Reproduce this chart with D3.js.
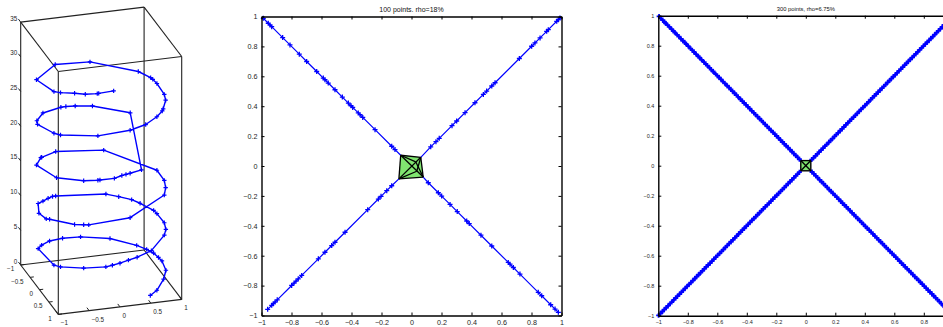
<!DOCTYPE html>
<html>
<head>
<meta charset="utf-8">
<script src="https://cdn.jsdelivr.net/npm/d3@7"></script>
<style>
  html, body { margin: 0; padding: 0; background: #fff; }
  svg { display: block; font-family: "Liberation Sans", Arial, sans-serif; }
</style>
</head>
<body>
<div id="container"></div>
<script>
// ---------- data ----------
// left panel: sampled helix, read off the 3d view (top end first)
const helixX = [-0.10, -0.33, -0.35, -0.52, -0.66, -0.83, -0.90, -0.97, -0.48, 0.12,
  0.79, 0.92, 0.94, 0.97, 0.996, 0.966, 0.84, 0.81, 0.68, 0.45,
  0.17, -0.34, -0.83, -0.90, -0.98, -0.93, -0.74, -0.37, -0.28, -0.12,
  0.16, 0.69, 0.37, 0.17, 0.10, 0.03, -0.09, -0.31, -0.34, -0.54,
  -0.87, -0.97, -0.79, -0.77, -0.47, 0.33, 0.97, 0.996, 0.966, 0.87,
  0.17, -0.47, -0.54, -0.66, -0.94, -0.97, -1.0, -0.87, -0.74, -0.62,
  -0.53, -0.47, 0.36, 0.54, 0.71, 0.81, 0.95, 0.97, 0.996, 0.96,
  0.88, 0.56, 0.29, 0.14, 0.0, -0.12, -0.22, -0.54, -0.83, -0.90,
  -0.87, -0.77, -0.59, -0.34, -0.03, 0.42, 0.77, 0.88, 0.95, 0.98,
  1.0, 0.97, 0.85, 0.68, 0.54];
const helixY = [0.99, 0.95, 0.94, 0.86, 0.75, 0.56, 0.44, -0.26, -0.87, -0.99,
  -0.62, -0.39, -0.34, -0.22, 0.087, 0.259, 0.54, 0.59, 0.73, 0.89,
  0.98, 0.94, 0.56, 0.44, -0.17, -0.37, -0.67, -0.93, -0.96, -0.99,
  -0.99, -0.72, 0.93, 0.98, 0.99, 1.0, 0.996, 0.95, 0.94, 0.84,
  0.48, -0.26, -0.62, -0.64, -0.88, -0.95, -0.22, 0.087, 0.259, 0.5,
  0.98, 0.88, 0.84, 0.75, 0.34, 0.26, -0.03, -0.5, -0.67, -0.79,
  -0.85, -0.88, -0.93, -0.84, -0.71, -0.59, -0.33, -0.22, 0.087, 0.29,
  0.47, 0.83, 0.96, 0.99, 1.0, 0.99, 0.97, 0.84, 0.56, 0.44,
  -0.5, -0.64, -0.81, -0.94, -1.0, -0.91, -0.64, -0.47, -0.33, -0.17,
  -0.05, 0.26, 0.53, 0.73, 0.84];
const helixZ = [31.2, 30.95, 30.9, 30.7, 30.6, 30.2, 30.0, 29.3, 28.8, 28.1,
  27.3, 27.1, 27.0, 26.8, 26.3, 26.1, 26.0, 25.9, 25.7, 25.4,
  25.2, 24.8, 24.1, 24.0, 23.2, 22.95, 22.8, 22.3, 22.2, 22.0,
  21.7, 21.1, 19.1, 19.0, 18.95, 18.9, 18.6, 18.45, 18.4, 18.2,
  17.7, 17.0, 16.6, 16.55, 16.2, 15.3, 14.3, 13.9, 13.5, 13.4,
  12.6, 11.9, 11.85, 11.7, 11.3, 11.1, 10.9, 10.5, 10.1, 9.95,
  9.9, 9.8, 9.0, 8.75, 8.6, 8.4, 8.15, 8.05, 7.8, 7.6,
  7.5, 6.9, 6.7, 6.55, 6.3, 6.1, 5.9, 5.6, 5.1, 5.0,
  4.0, 3.9, 3.7, 3.35, 3.0, 2.6, 2.2, 2.1, 2.0, 1.9,
  1.8, 1.6, 1.4, 0.7, 0.5];
const cubeXTicks = [-1, -0.5, 0, 0.5, 1];
const cubeYTicks = [-1, -0.5, 0, 0.5, 1];
const cubeZTicks = [0, 5, 10, 15, 20, 25, 30, 35];

// 2d panels: x values of the points on each diagonal branch
// branch order: upper-left, upper-right, lower-left, lower-right
const branchSign = [-1, 1, 1, -1];
const branchCore = [0, 1, 3, 2];
const planeTicks = [-1, -0.8, -0.6, -0.4, -0.2, 0, 0.2, 0.4, 0.6, 0.8, 1];

const midTitle = "100 points. rho=18%";
const midUL = [-0.988, -0.955, -0.943, -0.932, -0.859, -0.81, -0.748, -0.699, -0.632, -0.588,
  -0.577, -0.555, -0.51, -0.461, -0.421, -0.403, -0.392, -0.355, -0.343, -0.325,
  -0.243, -0.132, -0.11];
const midUR = [0.128, 0.163, 0.185, 0.27, 0.301, 0.357, 0.423, 0.479, 0.501, 0.535,
  0.557, 0.719, 0.801, 0.823, 0.857, 0.901, 0.912, 0.968, 0.979, 0.99];
const midLL = [-0.959, -0.932, -0.921, -0.91, -0.895, -0.799, -0.783, -0.77, -0.755, -0.732,
  -0.621, -0.577, -0.532, -0.51, -0.443, -0.292, -0.221, -0.203, -0.165, -0.132];
const midLR = [0.112, 0.179, 0.201, 0.257, 0.305, 0.368, 0.385, 0.463, 0.535, 0.645,
  0.657, 0.679, 0.723, 0.845, 0.868, 0.928, 0.957, 0.979];
const midCoreX = [-0.072, 0.062, 0.078, -0.084, 0.035, 0.028];
const midCoreY = [0.072, 0.058, -0.074, -0.086, -0.035, 0.028];
const midCoreEdges = [[0, 1], [1, 2], [2, 3], [3, 0], [0, 2], [1, 3], [1, 4], [3, 4], [0, 5], [2, 5]];
const midCoreFaces = [[0, 1, 2], [0, 2, 3]];

const rightTitle = "300 points, rho=6.75%";
const rightUL = [-0.995, -0.982, -0.97, -0.958, -0.951, -0.937, -0.925, -0.91, -0.897, -0.889,
  -0.872, -0.86, -0.846, -0.833, -0.82, -0.812, -0.797, -0.781, -0.77, -0.758,
  -0.744, -0.729, -0.72, -0.706, -0.69, -0.678, -0.667, -0.652, -0.641, -0.628,
  -0.611, -0.6, -0.588, -0.575, -0.561, -0.549, -0.533, -0.52, -0.508, -0.497,
  -0.483, -0.47, -0.459, -0.443, -0.43, -0.418, -0.405, -0.392, -0.38, -0.366,
  -0.352, -0.341, -0.327, -0.313, -0.3, -0.289, -0.276, -0.262, -0.249, -0.236,
  -0.222, -0.21, -0.198, -0.185, -0.171, -0.158, -0.146, -0.133, -0.12, -0.107,
  -0.093, -0.081, -0.068, -0.055, -0.043];
const rightUR = [0.04, 0.052, 0.066, 0.079, 0.09, 0.104, 0.117, 0.13, 0.141, 0.156,
  0.168, 0.181, 0.195, 0.207, 0.219, 0.233, 0.246, 0.258, 0.272, 0.285,
  0.297, 0.31, 0.324, 0.336, 0.349, 0.362, 0.375, 0.387, 0.401, 0.414,
  0.426, 0.44, 0.452, 0.465, 0.478, 0.49, 0.503, 0.517, 0.529, 0.541,
  0.555, 0.568, 0.58, 0.593, 0.606, 0.619, 0.632, 0.644, 0.657, 0.67,
  0.683, 0.695, 0.708, 0.721, 0.734, 0.746, 0.759, 0.772, 0.785, 0.797,
  0.81, 0.823, 0.836, 0.848, 0.861, 0.874, 0.887, 0.899, 0.912, 0.925,
  0.938, 0.95, 0.963, 0.976, 0.99];
const rightLL = [-0.998, -0.986, -0.972, -0.96, -0.947, -0.934, -0.92, -0.909, -0.895, -0.882,
  -0.87, -0.856, -0.843, -0.831, -0.818, -0.805, -0.791, -0.779, -0.766, -0.752,
  -0.74, -0.727, -0.713, -0.701, -0.688, -0.675, -0.662, -0.649, -0.636, -0.623,
  -0.61, -0.598, -0.584, -0.571, -0.559, -0.545, -0.533, -0.52, -0.507, -0.494,
  -0.481, -0.469, -0.455, -0.442, -0.43, -0.417, -0.403, -0.391, -0.378, -0.365,
  -0.352, -0.339, -0.327, -0.313, -0.3, -0.288, -0.275, -0.261, -0.249, -0.236,
  -0.223, -0.21, -0.197, -0.184, -0.171, -0.159, -0.146, -0.133, -0.12, -0.107,
  -0.094, -0.081, -0.068, -0.056, -0.043];
const rightLR = [0.042, 0.055, 0.068, 0.08, 0.094, 0.107, 0.12, 0.133, 0.145, 0.159,
  0.172, 0.184, 0.198, 0.21, 0.223, 0.237, 0.249, 0.262, 0.275, 0.288,
  0.3, 0.314, 0.327, 0.339, 0.352, 0.366, 0.378, 0.391, 0.404, 0.417,
  0.43, 0.443, 0.455, 0.469, 0.481, 0.494, 0.507, 0.52, 0.533, 0.546,
  0.558, 0.571, 0.585, 0.597, 0.61, 0.623, 0.636, 0.649, 0.662, 0.674,
  0.688, 0.7, 0.713, 0.726, 0.739, 0.752, 0.765, 0.777, 0.79, 0.803,
  0.816, 0.829, 0.842, 0.855, 0.867, 0.881, 0.893, 0.906, 0.919, 0.932,
  0.945, 0.958, 0.97, 0.983, 0.996];
const rightCoreX = [-0.034, 0.034, 0.034, -0.034];
const rightCoreY = [0.034, 0.034, -0.034, -0.034];
const rightCoreEdges = [[0, 1], [1, 2], [2, 3], [3, 0], [0, 2], [1, 3]];
const rightCoreFaces = [[0, 1, 2], [0, 2, 3]];

// ---------- setup ----------
const W = 943, H = 327;
const BLUE = "#0000ff", GREEN = "rgb(128,228,112)", TXT = "#262626";
const fmt = d3.format("~g");

const svg = d3.select("#container").append("svg")
  .attr("width", W).attr("height", H).attr("viewBox", `0 0 ${W} ${H}`);

const plus = (x, y, s) => `M${x - s},${y}H${x + s}M${x},${y - s}V${y + s}`;

// ---------- left: 3d helix ----------
// orthographic view, each data axis contributes a screen offset
const sxX = d3.scaleLinear().domain([-1, 1]).range([-61.7, 61.7]);
const syX = d3.scaleLinear().domain([-1, 1]).range([7.5, -7.5]);
const sxY = d3.scaleLinear().domain([-1, 1]).range([-18.8, 18.8]);
const syY = d3.scaleLinear().domain([-1, 1]).range([-24.7, 24.7]);
const syZ = d3.scaleLinear().domain([0, 35]).range([0, -242.9]);
const proj = (x, y, z) => [101.2 + sxX(x) + sxY(y), 282.2 + syX(x) + syY(y) + syZ(z)];

const g3 = svg.append("g");
const lims = { x: [-1, 1], y: [-1, 1], z: [0, 35] };
const boxEdges = [];
for (const a of lims.y) for (const b of lims.z) boxEdges.push([[-1, a, b], [1, a, b]]);
for (const a of lims.x) for (const b of lims.z) boxEdges.push([[a, -1, b], [a, 1, b]]);
for (const a of lims.x) for (const b of lims.y) boxEdges.push([[a, b, 0], [a, b, 35]]);

g3.selectAll(".edge").data(boxEdges).join("line")
  .attr("x1", d => proj(...d[0])[0]).attr("y1", d => proj(...d[0])[1])
  .attr("x2", d => proj(...d[1])[0]).attr("y2", d => proj(...d[1])[1])
  .attr("stroke", "#222").attr("stroke-width", 1.1);

// ticks + labels
const tick3 = (data, p0, p1, lab) => {
  g3.append("g").selectAll("line").data(data).join("line")
    .attr("x1", d => p0(d)[0]).attr("y1", d => p0(d)[1])
    .attr("x2", d => p1(d)[0]).attr("y2", d => p1(d)[1])
    .attr("stroke", "#222").attr("stroke-width", 1);
  g3.append("g").selectAll("text").data(data).join("text")
    .attr("x", d => p0(d)[0] + lab.dx).attr("y", d => p0(d)[1] + lab.dy)
    .attr("text-anchor", lab.anchor).attr("font-size", 6.3).attr("fill", TXT)
    .text(fmt);
};
tick3(cubeZTicks, z => proj(-1, -1, z), z => proj(-1, -1.12, z), { dx: -3.5, dy: -1.5, anchor: "end" });
tick3(cubeYTicks, v => proj(-1, v, 0), v => proj(-0.94, v, 0), { dx: -6.5, dy: 6.3, anchor: "end" });
tick3(cubeXTicks, v => proj(v, 1, 0), v => proj(v, 0.88, 0), { dx: 2.5, dy: 11, anchor: "start" });

const helixPts = helixX.map((x, i) => proj(x, helixY[i], helixZ[i]));
g3.append("path").attr("d", d3.line()(helixPts))
  .attr("fill", "none").attr("stroke", BLUE).attr("stroke-width", 1.4)
  .attr("stroke-linejoin", "round");
g3.append("path").attr("d", helixPts.map(p => plus(p[0], p[1], 2.2)).join(""))
  .attr("stroke", BLUE).attr("stroke-width", 1.2);

// ---------- 2d panels ----------
function drawPanel(o) {
  const x = d3.scaleLinear().domain([-1, 1]).range([o.left, o.right]);
  const y = d3.scaleLinear().domain([-1, 1]).range([o.bottom, o.top]);
  const g = svg.append("g");
  const line = d3.line().x(d => x(d[0])).y(d => y(d[1]));

  o.branches.forEach((xs, k) => {
    const pts = xs.map(v => [v, branchSign[k] * v]);
    const c = branchCore[k];
    const path = pts.concat([[o.coreX[c], o.coreY[c]]]).sort((a, b) => a[0] - b[0]);
    g.append("path").attr("d", line(path))
      .attr("fill", "none").attr("stroke", BLUE).attr("stroke-width", o.lw);
    g.append("path").attr("d", pts.map(p => plus(x(p[0]), y(p[1]), o.ms)).join(""))
      .attr("stroke", BLUE).attr("stroke-width", o.mw);
  });

  g.selectAll(".face").data(o.faces).join("path")
    .attr("d", f => line(f.map(i => [o.coreX[i], o.coreY[i]])) + "Z")
    .attr("fill", GREEN);
  g.selectAll(".cedge").data(o.edges).join("line")
    .attr("x1", e => x(o.coreX[e[0]])).attr("y1", e => y(o.coreY[e[0]]))
    .attr("x2", e => x(o.coreX[e[1]])).attr("y2", e => y(o.coreY[e[1]]))
    .attr("stroke", "#000").attr("stroke-width", o.ew);

  const none = () => "";
  // labels whose tick falls past the page edge are left out, as in the cropped original
  const xFmt = v => (x(v) + 6 > W ? "" : fmt(v));
  const axes = [
    [d3.axisBottom(x).tickFormat(xFmt), `translate(0,${o.bottom})`],
    [d3.axisTop(x).tickFormat(none), `translate(0,${o.top})`],
    [d3.axisLeft(y).tickFormat(fmt), `translate(${o.left},0)`],
    [d3.axisRight(y).tickFormat(none), `translate(${o.right},0)`]
  ];
  axes.forEach(([ax, tr]) => {
    const a = g.append("g").attr("transform", tr)
      .call(ax.tickValues(planeTicks).tickSizeInner(-3).tickSizeOuter(0).tickPadding(o.pad));
    a.attr("font-family", null).attr("font-size", o.fs);
    a.select(".domain").attr("stroke", "#000").attr("stroke-width", 1.4);
    a.selectAll(".tick line").attr("stroke", "#000").attr("stroke-width", 1);
    a.selectAll(".tick text").attr("fill", TXT);
  });

  g.append("text").attr("x", (o.left + o.right) / 2).attr("y", 9)
    .attr("text-anchor", "middle").attr("dominant-baseline", "central")
    .attr("font-size", o.tfs).attr("fill", "#111").text(o.title);
}

drawPanel({
  left: 261.5, right: 561.5, top: 16.5, bottom: 315.5,
  branches: [midUL, midUR, midLL, midLR],
  coreX: midCoreX, coreY: midCoreY, edges: midCoreEdges, faces: midCoreFaces,
  title: midTitle, fs: 7.2, tfs: 7, pad: 4, lw: 1.2, ms: 2.5, mw: 1.3, ew: 1.3
});

drawPanel({
  left: 658.3, right: 953.3, top: 15.7, bottom: 315.7,
  branches: [rightUL, rightUR, rightLL, rightLR],
  coreX: rightCoreX, coreY: rightCoreY, edges: rightCoreEdges, faces: rightCoreFaces,
  title: rightTitle, fs: 5.5, tfs: 5.8, pad: 4, lw: 2, ms: 2.4, mw: 1.8, ew: 1.4
});
</script>
</body>
</html>
